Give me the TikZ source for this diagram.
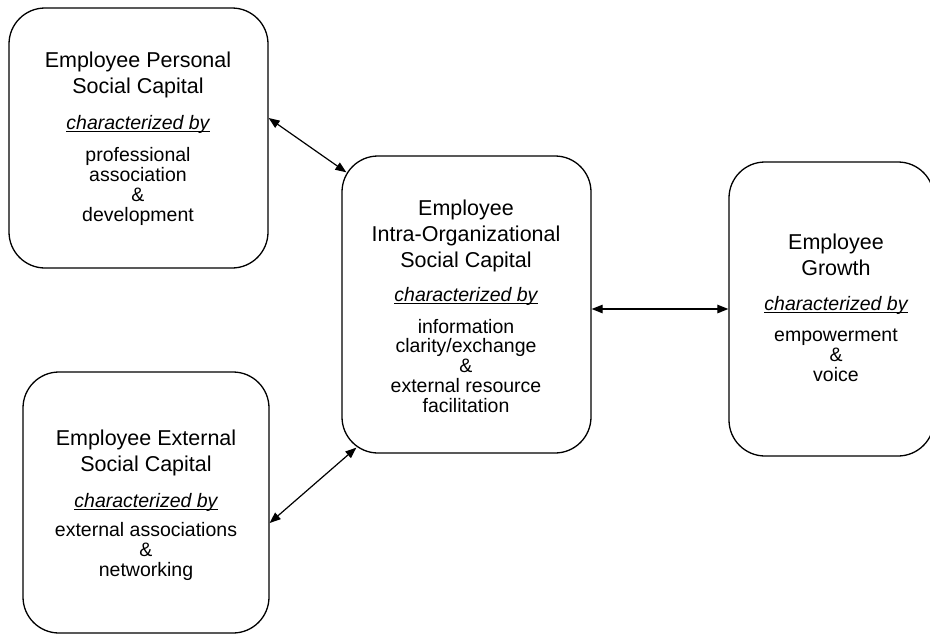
\documentclass[tikz,border=0pt]{standalone}
\usepackage{fontspec}
\setmainfont{Liberation Sans}
\usepackage{tikz}
\usetikzlibrary{arrows.meta}
\newcommand{\undertext}[1]{\setbox0\hbox{#1}\rlap{\rule[-2.6pt]{\wd0}{0.9pt}}\box0}
\tikzstyle{capbox} = [rectangle, rounded corners=36pt, 
draw=black, 
line width=1.3pt, 
inner sep=0pt]
\tikzstyle{heading} = [align=center, 
inner sep=0pt, 
anchor=base, 
font=\fontsize{21.5}{26}\selectfont]
\tikzstyle{charby} = [inner sep=0pt, 
anchor=base, 
font=\fontsize{19.5}{20}\selectfont\itshape]
\tikzstyle{detail} = [align=center, 
inner sep=0pt, 
anchor=base, 
font=\fontsize{19.5}{19.7}\selectfont]
\tikzstyle{arrow} = [line width=1.2pt, {Triangle[length=11pt,width=8.5pt]}-{Triangle[length=11pt,width=8.5pt]}]
\begin{document}
\begin{tikzpicture}[x=1pt, y=-1pt]
\useasboundingbox (0,0) rectangle (930,635);
% the four boxes
\node (personal) [capbox, minimum width=259pt, minimum height=260pt] at (138.5,138) {};
\node (external) [capbox, minimum width=246pt, minimum height=261pt] at (146,502.5) {};
\node (intra) [capbox, minimum width=249pt, minimum height=297pt] at (466.5,304.5) {};
\node (growth) [capbox, minimum width=205pt, minimum height=294pt] at (831.5,309) {};

% texts (base = last line)
\node (personalhead) [heading] at (138,93) {Employee Personal\\Social Capital};
\node (personalchar) [charby] at (138,129) {\undertext{characterized by}};
\node (personalbody) [detail] at (138,221) {professional\\association\\\&\\development};

\node (externalhead) [heading] at (146,471) {Employee External\\Social Capital};
\node (externalchar) [charby] at (146,507) {\undertext{characterized by}};
\node (externalbody) [detail] at (146,576) {external associations\\\&\\networking};

\node (intrahead) [heading] at (466,267) {Employee\\Intra-Organizational\\Social Capital};
\node (intrachar) [charby] at (466,301) {\undertext{characterized by}};
\node (intrabody) [detail] at (466,412) {information\\clarity/exchange\\\&\\external resource\\facilitation};

\node (growthhead) [heading] at (836,275) {Employee\\Growth};
\node (growthchar) [charby] at (836,310) {\undertext{characterized by}};
\node (growthbody) [detail] at (836,381) {empowerment\\\&\\voice};

% links
\draw [arrow] ([yshift=20pt]personal.east) -- ([shift={(5pt,-17pt)}]intra.north west);
\draw [arrow] ([yshift=-20.5pt]external.east) -- ([shift={(15pt,6pt)}]intra.south west);
\draw [arrow] (intra.east |- growth.west) -- (growth.west);
\end{tikzpicture}
\end{document}
